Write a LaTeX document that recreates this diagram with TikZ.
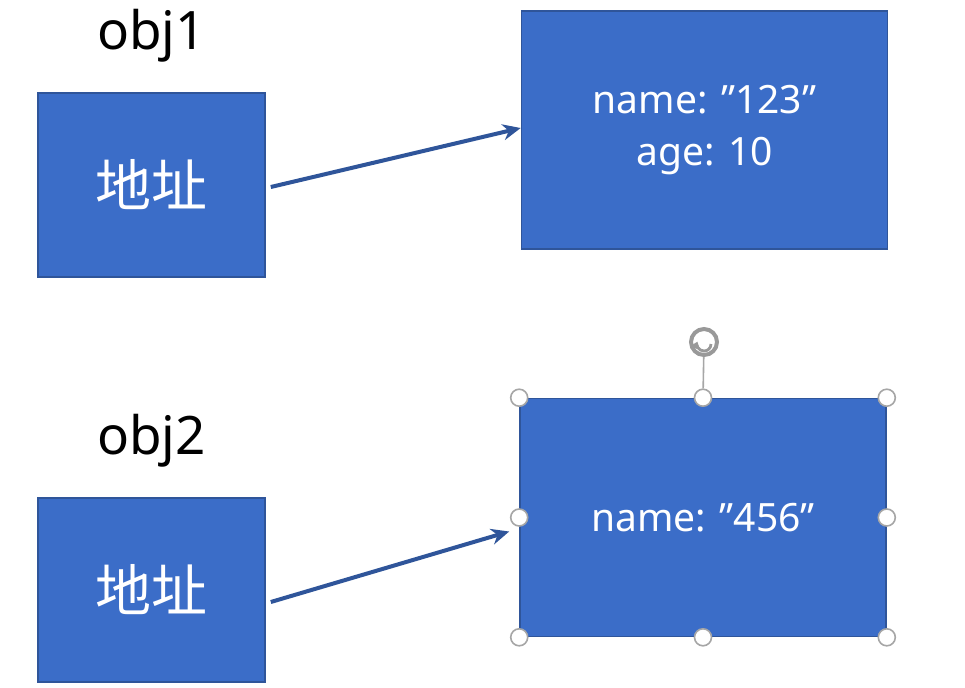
\documentclass[tikz,border=0pt]{standalone}
\usepackage{fontspec}
\setmainfont{Noto Sans}
\newfontfamily\cjk{Noto Sans CJK SC}
\usepackage{xcolor}
\usepackage{tikz}
\usetikzlibrary{arrows.meta,positioning}

\definecolor{boxblue}{HTML}{3B6DC8}
\definecolor{edgeblue}{HTML}{2F559A}

\begin{document}
\begin{tikzpicture}[
        x=0.5pt, y=-0.5pt,
        addr/.style={rectangle, draw=edgeblue, line width=0.8pt, fill=boxblue, text=white, minimum width=113.5pt, minimum height=92pt, font=\cjk\fontsize{28}{32}\selectfont},
        value/.style={rectangle, draw=edgeblue, line width=0.8pt, fill=boxblue, text=white, minimum width=183pt, minimum height=119pt, align=center, font=\fontsize{19.5}{26}\selectfont},
        varname/.style={font=\fontsize{26.5}{30}\selectfont, inner sep=0pt},
        link/.style={-{Stealth[length=9pt,width=8pt]}, draw=edgeblue, line width=2pt},
        handle/.style={circle, draw=gray!70, fill=white, line width=0.8pt, minimum size=8.5pt, inner sep=0pt}
    ]
        \useasboundingbox[fill=white] (0,0) rectangle (965,687);

        % Address boxes
        \node [addr] (addr1) at (151.5,185) {地址};
        \node [addr] (addr2) at (151.5,590) {地址};

        % Variable names
        \node [varname, above=15pt of addr1] (obj1) {obj1};
        \node [varname, above=15pt of addr2] (obj2) {obj2};

        % Objects in memory
        \node [value] (val1) at (704.5,130) {name: ”123”\\age: 10};
        \node [value] (val2) at (703,517.5) {name: ”456”};

        % Arrows
        \draw [link] ([xshift=2.5pt,yshift=-1pt]addr1.east) -- ([yshift=1pt]val1.west);
        \draw [link] ([xshift=2.5pt,yshift=-6pt]addr2.east) -- ([xshift=-5pt,yshift=-7pt]val2.west);

        % Selection handles
        \foreach \a [count=\i] in {north west, north, north east, west, east, south west, south, south east}
            \node [handle] (h\i) at (val2.\a) {};
        \node [circle, draw=gray!80, line width=2pt, minimum size=13pt, inner sep=0pt] (rot) at (704,342) {};
        \draw [gray!70, line width=0.8pt] (h2) -- (rot);
        \draw [gray!80, line width=1.4pt, -{Triangle[length=3.5pt,width=5pt]}] ([yshift=-1pt]rot.center) ++(0:3.5pt) arc (0:-200:3.5pt);

    \end{tikzpicture}
\end{document}
